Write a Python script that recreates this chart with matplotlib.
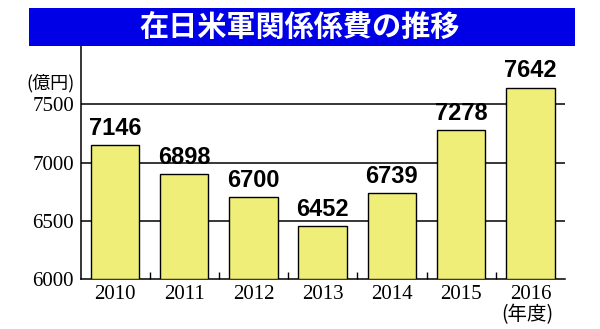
import matplotlib
matplotlib.use("Agg")
import matplotlib.pyplot as plt
from matplotlib.patches import Rectangle

years = ["2010", "2011", "2012", "2013", "2014", "2015", "2016"]
values = [7146, 6898, 6700, 6452, 6739, 7278, 7642]
yticks = [6000, 6500, 7000, 7500]
title = "在日米軍関係係費の推移"
unit_label = "(億円)"
year_label = "(年度)"

cjk = ["Noto Sans CJK JP", "DejaVu Sans"]
serif = ["Liberation Serif", "DejaVu Serif"]

fig = plt.figure(figsize=(6.0, 3.29), dpi=100)
fig.patch.set_facecolor("white")
ax = fig.add_axes([81/600, 1-279/329, (565-81)/600, (279-46)/329])

x = list(range(len(years)))
ax.bar(x, [v - 6000 for v in values], bottom=6000, width=0.7,
       color="#EEEE78", edgecolor="black", linewidth=1.0, zorder=3)

for yy in yticks[1:]:
    ax.axhline(yy, color="black", linewidth=1.1, zorder=1)

for xi, v in zip(x, values):
    ax.text(xi, v + 45, f"{v}", ha="center", va="bottom", fontsize=17,
            fontweight="bold", family=["Liberation Sans", "DejaVu Sans"], zorder=4)

ax.set_xlim(-0.49, 6.5)
ax.set_ylim(6000, 8000)
ax.set_yticks(yticks)
ax.set_yticklabels([str(t) for t in yticks], family=serif, fontsize=15)
ax.set_xticks(x)
ax.set_xticklabels(years, family=serif, fontsize=15)
ax.set_xticks([i + 0.5 for i in range(len(years) - 1)], minor=True)
ax.tick_params(axis="y", length=0, pad=5)
ax.tick_params(axis="x", which="major", length=0, pad=4)
ax.tick_params(axis="x", which="minor", direction="in", length=5, width=1, color="black")

for s in ["top", "right"]:
    ax.spines[s].set_visible(False)
ax.spines["left"].set_linewidth(1.1)
ax.spines["bottom"].set_linewidth(1.1)

fig.text(75/600, 1-83/329, unit_label, ha="right", va="center", fontsize=13,
         family=cjk)
fig.text(527/600, 1-315/329, year_label, ha="center", va="center", fontsize=14,
         family=cjk)

fig.patches.append(Rectangle((29/600, 1-46/329), 546/600, 38/329,
                             transform=fig.transFigure, facecolor="#0000E6",
                             edgecolor="none", zorder=5))
fig.text(300/600, 1-27/329, title, ha="center", va="center", fontsize=21,
         fontweight="bold", color="white", family=cjk, zorder=6)

fig.savefig("out.png", dpi=100)
